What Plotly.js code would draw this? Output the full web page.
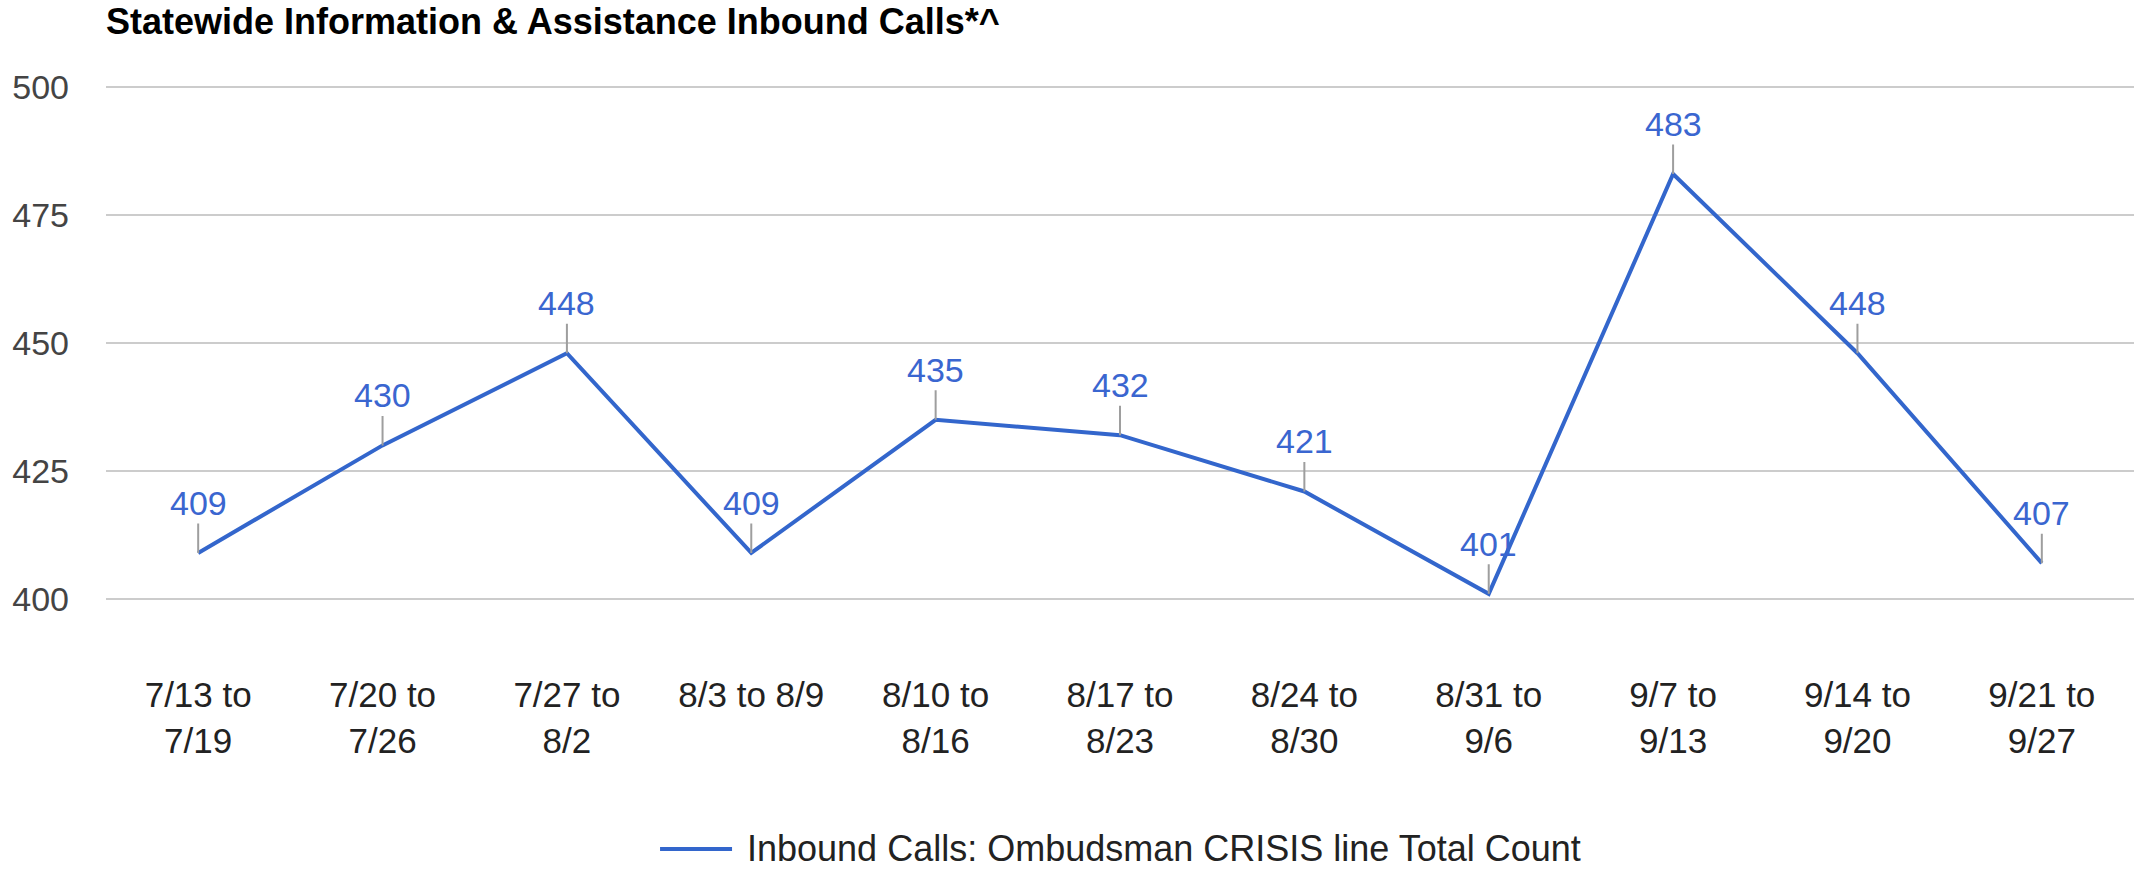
<!DOCTYPE html>
<html>
<head>
<meta charset="utf-8">
<script src="https://cdn.plot.ly/plotly-3.0.1.min.js"></script>
<style>html,body{margin:0;padding:0;background:#fff;}#chart{width:2138px;height:872px;}</style>
</head>
<body>
<div id="chart"></div>
<script>
const categories = ["7/13 to<br>7/19","7/20 to<br>7/26","7/27 to<br>8/2","8/3 to 8/9","8/10 to<br>8/16","8/17 to<br>8/23","8/24 to<br>8/30","8/31 to<br>9/6","9/7 to<br>9/13","9/14 to<br>9/20","9/21 to<br>9/27"];
const inboundCalls = [409, 430, 448, 409, 435, 432, 421, 401, 483, 448, 407];
const yTicks = [400, 425, 450, 475, 500];
const seriesName = "Inbound Calls: Ombudsman CRISIS line Total Count";
const chartTitle = "Statewide Information & Assistance Inbound Calls*^";

const FONT = "Liberation Sans, Arial, sans-serif";
const BLUE = "#3366cc";

const trace = {
  x: categories,
  y: inboundCalls,
  type: "scatter",
  mode: "lines",
  name: seriesName,
  line: {color: BLUE, width: 4},
  hoverinfo: "x+y",
  showlegend: false
};

const labelAnnotations = categories.map((c, i) => ({
  x: c, y: inboundCalls[i], xref: "x", yref: "y",
  text: String(inboundCalls[i]),
  showarrow: true, arrowhead: 0, arrowwidth: 2, arrowcolor: "#9e9e9e",
  ax: 0, ay: -50, standoff: 0,
  font: {family: FONT, size: 34, color: "#3a66d0"}
}));

const legendAnnotation = {
  xref: "paper", yref: "paper", x: 0.3151, y: -0.4844,
  xanchor: "left", yanchor: "middle", showarrow: false,
  text: seriesName,
  font: {family: FONT, size: 36, color: "#222222"}
};

const layout = {
  width: 2138, height: 872,
  margin: {l: 106, r: 4, t: 86, b: 272, pad: 0},
  paper_bgcolor: "#ffffff", plot_bgcolor: "#ffffff",
  font: {family: FONT, size: 34, color: "#222222"},
  title: {
    text: "<b>" + chartTitle + "</b>",
    font: {family: FONT, size: 36, color: "#000000"},
    xref: "paper", x: 0, xanchor: "left",
    yref: "container", y: 0.976, yanchor: "middle"
  },
  xaxis: {
    type: "category",
    range: [-0.5, categories.length - 0.5],
    showgrid: false, zeroline: false, showline: false,
    ticks: "", ticklabelstandoff: 71,
    tickfont: {family: FONT, size: 35, color: "#222222"},
    fixedrange: true
  },
  yaxis: {
    range: [399.8, 500.2],
    tickvals: yTicks,
    ticktext: yTicks.map(String),
    showgrid: true, gridcolor: "#cccccc", gridwidth: 2,
    zeroline: false, showline: false, ticks: "",
    ticklabelstandoff: 36,
    tickfont: {family: FONT, size: 34, color: "#444444"},
    fixedrange: true
  },
  shapes: [{
    type: "line", xref: "paper", yref: "paper",
    x0: 0.2732, x1: 0.3087, y0: -0.4844, y1: -0.4844,
    line: {color: BLUE, width: 4}
  }],
  annotations: labelAnnotations.concat([legendAnnotation]),
  showlegend: false
};

Plotly.newPlot("chart", [trace], layout, {displayModeBar: false, staticPlot: true});
</script>
</body>
</html>
